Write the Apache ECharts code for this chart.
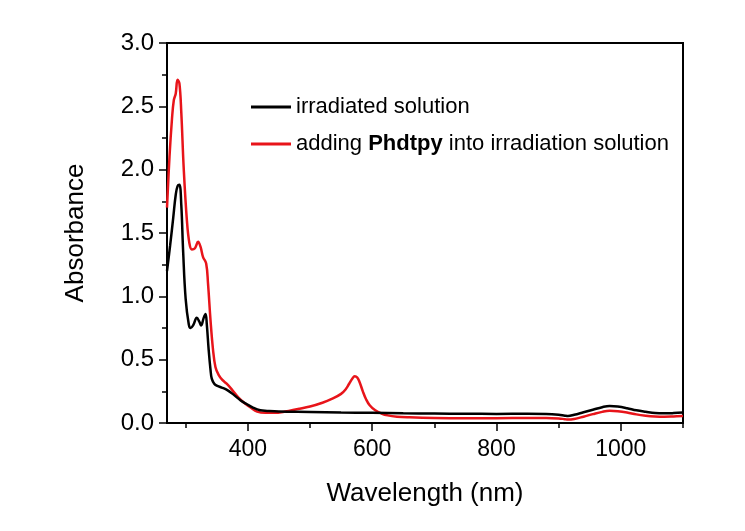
<!DOCTYPE html>
<html><head><meta charset="utf-8">
<script src="https://cdn.jsdelivr.net/npm/echarts@6/dist/echarts.min.js"></script>
<style>html,body{margin:0;padding:0;background:#fff}#c{width:745px;height:531px}</style>
</head><body><div id="c"></div>
<script>
const seriesNames = ['irradiated solution', 'adding Phdtpy into irradiation solution'];
const blackX = [270,275,280,284,287,290,293,296,300,305,308,312,318,322,325,329,332,334,337,340,342,346,350,358,367,378,388,398,409,420,431,450,500,550,600,650,700,750,800,850,880,900,910,915,925,940,955,970,982,995,1010,1025,1040,1055,1070,1085,1100];
const blackY = [1.2,1.4,1.62,1.8,1.87,1.88,1.72,1.35,0.98,0.78,0.75,0.77,0.83,0.8,0.77,0.83,0.86,0.78,0.58,0.42,0.35,0.31,0.295,0.28,0.26,0.22,0.18,0.15,0.12,0.1,0.095,0.09,0.087,0.083,0.08,0.077,0.075,0.073,0.072,0.073,0.072,0.066,0.058,0.055,0.065,0.085,0.105,0.125,0.134,0.13,0.117,0.1,0.088,0.078,0.076,0.078,0.082];
const redX = [270,274,278,281,284,287,290,293,297,302,306,310,315,320,324,328,333,336,340,344,348,353,359,366,375,385,394,405,415,428,442,460,480,500,520,535,550,558,563,568,572,576,580,585,590,596,605,615,625,640,660,700,750,800,850,880,900,910,915,925,940,955,970,982,995,1010,1025,1040,1055,1070,1085,1100];
const redY = [1.7,2.1,2.4,2.55,2.6,2.71,2.68,2.45,2.0,1.6,1.42,1.37,1.38,1.43,1.39,1.31,1.26,1.1,0.81,0.58,0.44,0.38,0.34,0.31,0.26,0.2,0.16,0.12,0.09,0.08,0.08,0.09,0.11,0.13,0.16,0.19,0.23,0.27,0.31,0.35,0.37,0.36,0.32,0.25,0.19,0.14,0.1,0.075,0.06,0.05,0.045,0.04,0.038,0.038,0.04,0.04,0.036,0.03,0.027,0.032,0.05,0.07,0.088,0.096,0.093,0.083,0.068,0.058,0.052,0.05,0.052,0.055];
const xMajor = [400,600,800,1000];
const xMinor = [300,500,700,900,1100];

const pairs = (xs, ys) => xs.map((x,i)=>[x, ys[i]]);
const FONT = 'Liberation Sans';
const chart = echarts.init(document.getElementById('c'), null, {renderer:'canvas'});
chart.setOption({
  animation:false,
  backgroundColor:'#fff',
  textStyle:{fontFamily:FONT},
  grid:{left:167, right:62, top:43, bottom:108, show:true, borderColor:'#000', borderWidth:2, backgroundColor:'transparent'},
  legend:{
    left:246, top:91, orient:'vertical', itemWidth:40, itemHeight:3, itemGap:15,
    icon:'rect',
    data:[{name:seriesNames[0], icon:'rect'},{name:seriesNames[1], icon:'rect'}],
    textStyle:{fontFamily:FONT, fontSize:22, color:'#000',
      rich:{b:{fontFamily:FONT, fontSize:22, fontWeight:'bold', color:'#000'}, n:{fontFamily:FONT, fontSize:22, color:'#000'}}},
    formatter: function(name){
      if (name === seriesNames[1]) return '{n|adding }{b|Phdtpy}{n| into irradiation solution}';
      return '{n|' + name + '}';
    }
  },
  xAxis:[{
    type:'value', min:270, max:1100,
    name:'Wavelength (nm)', nameLocation:'middle', nameGap:58,
    nameTextStyle:{fontFamily:FONT, fontSize:26, color:'#000'},
    axisLine:{show:true, onZero:false, lineStyle:{color:'#000', width:2}},
    axisTick:{show:true, inside:false, length:8, customValues:xMajor, lineStyle:{color:'#000', width:1.5}},
    axisLabel:{show:true, customValues:xMajor, fontFamily:FONT, fontSize:23, color:'#000', margin:15, formatter:v=>String(v)},
    splitLine:{show:false}
  },{
    type:'value', min:270, max:1100, position:'bottom',
    axisLine:{show:false},
    axisTick:{show:true, inside:false, length:5, customValues:xMinor, lineStyle:{color:'#000', width:1.5}},
    axisLabel:{show:false, customValues:xMinor},
    splitLine:{show:false}
  }],
  yAxis:{
    type:'value', min:0, max:3, interval:0.5,
    name:'Absorbance', nameLocation:'middle', nameGap:78, nameRotate:90,
    nameTextStyle:{fontFamily:FONT, fontSize:26, color:'#000'},
    axisLine:{show:true, lineStyle:{color:'#000', width:2}},
    axisTick:{show:true, inside:false, length:8, lineStyle:{color:'#000', width:1.5}},
    minorTick:{show:true, splitNumber:2, length:5, lineStyle:{color:'#000', width:1.5}},
    axisLabel:{fontFamily:FONT, fontSize:24, color:'#000', margin:13, formatter:v=>v.toFixed(1)},
    splitLine:{show:false}
  },
  series:[
    {name:seriesNames[0], type:'line', data:pairs(blackX, blackY), smooth:0.4, showSymbol:false, symbol:'none',
     lineStyle:{color:'#000', width:2.5}, itemStyle:{color:'#000'}, z:3},
    {name:seriesNames[1], type:'line', data:pairs(redX, redY), smooth:0.4, showSymbol:false, symbol:'none',
     lineStyle:{color:'#e8141a', width:2.5}, itemStyle:{color:'#e8141a'}, z:2}
  ]
});
</script></body></html>
